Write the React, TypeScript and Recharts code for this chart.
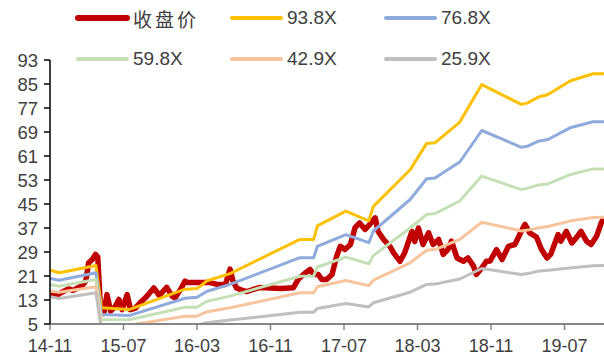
import { LineChart, Line, XAxis, YAxis } from 'recharts';

// months counted from 2014-11
const monthTicks = [0, 8, 16, 24, 32, 40, 48, 56];
const monthLabels = ['14-11', '15-07', '16-03', '16-11', '17-07', '18-03', '18-11', '19-07'];
const yTicks = [5, 13, 21, 29, 37, 45, 53, 61, 69, 77, 85, 93];

// PE band vertices
const bandMonths = [0, 1, 5, 5.6, 8.6, 14.7, 16, 17.1, 19.6, 27.2, 28.7, 29.1, 32.2, 34.7, 35.2, 39.2, 41, 41.9, 44.6, 47, 51.3, 52, 53.1, 54.2, 56.6, 59.1, 60.3];
const pe938 = [22.9, 22.1, 24.5, 10.4, 9.8, 16.6, 16.8, 19.4, 21.8, 33.2, 33.2, 37.7, 42.6, 39.4, 44.2, 56.4, 65.2, 65.4, 72.3, 84.8, 78.2, 78.7, 80.6, 81.5, 86, 88.4, 88.4];
const pe768 = [20.2, 19.6, 22.1, 8.2, 7.8, 13.6, 13.9, 15.9, 18.2, 27.1, 27.1, 30.9, 34.8, 32.1, 36, 46.5, 53.4, 53.7, 59, 69.5, 63.9, 64.3, 65.9, 66.5, 70.4, 72.4, 72.4];
const pe598 = [18.2, 17.6, 19.8, 6.5, 6.4, 10.6, 10.6, 12.6, 14.3, 20.9, 21, 24, 27.3, 25.1, 27.8, 37, 41.5, 41.8, 46, 54.3, 49.8, 50.3, 51.3, 51.7, 54.8, 56.7, 56.7];
const pe429 = [15.9, 15.6, 17.4, 4.6, 4.6, 7.6, 7.6, 9.1, 10.4, 15.4, 15.4, 17.4, 19.5, 17.8, 19.6, 25.4, 29.6, 29.8, 33.2, 38.9, 36, 36.3, 37, 37.5, 39.3, 40.5, 40.6];
const pe259 = [14.1, 13.5, 15.4, 3, 2.8, 4.3, 4.6, 5.4, 6.3, 8.9, 8.9, 10.2, 11.8, 10.7, 12.1, 15.6, 18.2, 18.3, 20, 23.5, 21.5, 21.8, 22.6, 22.9, 23.7, 24.4, 24.5];

// closing price
const priceMonths = [0, 0.6, 1.3, 2, 2.5, 3, 3.5, 3.9, 4.2, 4.6, 4.95, 5.2, 5.5, 5.85, 6.2, 6.6, 7.1, 7.5, 7.85, 8.4, 8.75, 9.3, 9.8, 10.3, 10.7, 11.3, 11.9, 12.7, 13.3, 13.6, 14.2, 14.7, 15, 16, 17.4, 18.2, 19.1, 19.6, 19.9, 20.3, 20.7, 21.4, 22.1, 22.9, 24, 25.1, 26.5, 27, 27.6, 28.3, 28.7, 29.2, 29.6, 30.1, 30.7, 31.2, 31.6, 32.1, 32.7, 33.2, 33.7, 34.3, 34.8, 35.4, 35.7, 36.3, 37, 37.4, 38.1, 38.6, 39.4, 39.7, 40.1, 40.6, 41.2, 41.7, 42.3, 42.8, 43.3, 43.7, 44.3, 45, 45.5, 46.1, 46.4, 47, 47.5, 47.9, 48.6, 49.2, 49.9, 50.6, 51.3, 51.7, 52.2, 52.95, 53.5, 54.1, 54.5, 54.9, 55.3, 55.6, 56.2, 56.8, 57.3, 57.8, 58.4, 58.9, 59.5, 60, 60.3];
const priceClose = [14.8, 14.3, 15.6, 16.7, 16.2, 17, 17.8, 19.3, 25.4, 26.5, 28.2, 27.3, 9.8, 8.5, 14.8, 9.3, 10.8, 13.2, 9.8, 14.8, 9.8, 10.3, 12.1, 13.5, 14.8, 17, 14.5, 17.2, 14.3, 13.7, 16.5, 19.3, 18.8, 18.8, 18.8, 18.2, 18.2, 23.3, 19.5, 17, 16.5, 15.8, 16.5, 17.2, 17, 16.8, 17.1, 19.8, 21.5, 23.2, 21.5, 21.5, 19.8, 19.8, 21.5, 27.6, 30.9, 29.8, 31.5, 37.1, 38.7, 36.5, 38.2, 40.4, 35.9, 33.2, 30.9, 28.7, 25.9, 28.7, 35.9, 32.5, 37, 31.5, 35.4, 31.5, 33.2, 28.2, 29.8, 32.6, 27, 25.9, 27, 24.3, 21.5, 23.7, 25.9, 26, 29.8, 26.5, 30.9, 31.5, 35.9, 38.2, 35.4, 34, 29.8, 27, 28.2, 31.5, 34.8, 32.6, 35.9, 32, 33.8, 35.9, 32.6, 31.5, 34.3, 38.7, 40.4];

const bandData = bandMonths.map((m, i) => ({
  m,
  pe938: pe938[i],
  pe768: pe768[i],
  pe598: pe598[i],
  pe429: pe429[i],
  pe259: pe259[i],
}));
const priceData = priceMonths.map((m, i) => ({ m, close: priceClose[i] }));

const series = [
  { key: 'close', name: '收盘价', color: '#C00000', width: 5 },
  { key: 'pe938', name: '93.8X', color: '#FFC000', width: 3 },
  { key: 'pe768', name: '76.8X', color: '#8FAADC', width: 3 },
  { key: 'pe598', name: '59.8X', color: '#C5E0B4', width: 3 },
  { key: 'pe429', name: '42.9X', color: '#F8C49C', width: 3 },
  { key: 'pe259', name: '25.9X', color: '#BFBFBF', width: 3 },
];

const legendPos = [
  { x: 75, y: 18 }, { x: 229, y: 18 }, { x: 383, y: 18 },
  { x: 75, y: 59 }, { x: 229, y: 59 }, { x: 383, y: 59 },
];

const font = '"Liberation Sans", Arial, sans-serif';

export default function App() {
  return (
    <div style={{ position: 'absolute', left: 0, top: 0, width: 604, height: 363, background: '#fff', fontFamily: font }}>
      <LineChart width={604} height={363} data={bandData} margin={{ top: 60, right: 0, bottom: 0, left: 0 }}>
        <XAxis
          dataKey="m"
          type="number"
          domain={[0, 60.3]}
          ticks={monthTicks}
          interval={0}
          allowDataOverflow
          height={39}
          tickFormatter={(v: number) => monthLabels[monthTicks.indexOf(v)] ?? ''}
          axisLine={{ stroke: '#868686', strokeWidth: 2 }}
          tickLine={{ stroke: '#868686', strokeWidth: 1.5 }}
          tickSize={6}
          tickMargin={9}
          tick={{ fontSize: 18, fill: '#404040', fontFamily: font }}
        />
        <YAxis
          type="number"
          domain={[5, 93]}
          ticks={yTicks}
          interval={0}
          allowDataOverflow
          width={50}
          axisLine={{ stroke: '#000', strokeWidth: 1.5 }}
          tickLine={{ stroke: '#000', strokeWidth: 1.5 }}
          tickSize={6}
          tickMargin={6}
          tick={{ fontSize: 18.5, fill: '#404040', fontFamily: font }}
        />
        <Line data={priceData} dataKey="close" type="linear" stroke="#C00000" strokeWidth={5.5} dot={false} isAnimationActive={false} strokeLinejoin="round" />
        {series.slice(1).map(s => (
          <Line key={s.key} dataKey={s.key} type="linear" stroke={s.color} strokeWidth={s.width} dot={false} isAnimationActive={false} strokeLinejoin="round" />
        ))}
      </LineChart>
      {series.map((s, i) => (
        <div key={s.key} style={{ position: 'absolute', left: legendPos[i].x, top: legendPos[i].y - 12, height: 24, display: 'flex', alignItems: 'center' }}>
          <svg width={56} height={24}>
            <line x1={3} y1={12} x2={52} y2={12} stroke={s.color} strokeWidth={s.width + 1} strokeLinecap="round" />
          </svg>
          <span style={{ fontSize: 19, color: '#404040', marginLeft: 2, fontFamily: i === 0 ? '"Noto Sans CJK SC", sans-serif' : font, letterSpacing: i === 0 ? 3 : 0 }}>
            {s.name}
          </span>
        </div>
      ))}
    </div>
  );
}
